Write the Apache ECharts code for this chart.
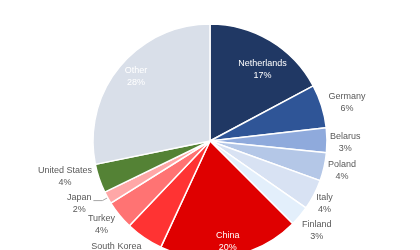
<!DOCTYPE html>
<html><head><meta charset="utf-8">
<script src="https://cdn.jsdelivr.net/npm/echarts@6/dist/echarts.min.js"></script>
<style>html,body{margin:0;padding:0;background:#fff}#c{width:420px;height:250px}</style>
</head><body><div id="c"></div>
<script>
const categories = ['Netherlands','Germany','Belarus','Poland','Italy','Finland','China','South Korea','Turkey','Japan','United States','Other'];
const values = [17.2, 6.0, 3.4, 3.9, 4.2, 2.8, 19.4, 5.2, 4.0, 1.7, 4.0, 28.2];
const pctLabels = ['17%','6%','3%','4%','4%','3%','20%','5%','4%','2%','4%','28%'];
const colors = ['#203864','#2F5597','#8FAADC','#B4C7E7','#D8E2F3','#E3EFFB','#DF0000','#FF3333','#FF7373','#FFA7A7','#548235','#D9DFE9'];
const insideNames = ['Netherlands','China','Other'];

// label placement tweaks (style only): radial line length and vertical shift
const labelTweak = {
  'Germany':{len:5, dy:-2}, 'Belarus':{len:1, dy:2}, 'Poland':{len:2, dy:3},
  'Italy':{len:0.5, dy:9}, 'Finland':{len:0.5, dy:14},
  'South Korea':{len:1.5, dy:14}, 'Turkey':{len:3, dy:8},
  'Japan':{len:6, len2:9, dy:3, line:true}, 'United States':{len:5.5, dy:-4}
};
const pad = dy => dy>=0 ? [2*dy,0,0,0] : [0,0,-2*dy,0];

const chart = echarts.init(document.getElementById('c'), null, {renderer:'canvas'});
const font = 'Liberation Sans';
const outerData = categories.map((n,i)=>{
  const t = labelTweak[n] || {len:5, dy:0};
  return {
    name:n, value:values[i],
    itemStyle:{color:colors[i]},
    label:{show: !insideNames.includes(n), padding: pad(t.dy)},
    labelLine:{show: !!t.line, length:t.len, length2:t.len2||0}
  };
});
const innerData = categories.map((n,i)=>({
  name:n, value:values[i],
  label: n==='Netherlands' ? {show:true, padding:[32,0,0,0]} :
         n==='Other' ? {show:true, padding:[0,0,0,10]} : {show: insideNames.includes(n)}
}));
chart.setOption({
  animation:false,
  series:[{
    type:'pie', center:[210,141], radius:[0,117], startAngle:90, clockwise:true,
    avoidLabelOverlap:false,
    labelLayout:{hideOverlap:false},
    itemStyle:{borderColor:'#fff', borderWidth:1.5},
    label:{position:'outside', distanceToLabelLine:2, fontFamily:font, fontSize:9, color:'#595959', lineHeight:12,
      formatter:p=>'{a|'+p.name+'}\n{a|'+pctLabels[p.dataIndex]+'}',
      rich:{a:{align:'center', fontFamily:font, fontSize:9, color:'#595959', lineHeight:12}}},
    labelLine:{lineStyle:{color:'#A6A6A6', width:1}},
    emphasis:{disabled:true},
    data:outerData
  },{
    type:'pie', center:[210,141], radius:[81,117], startAngle:90, clockwise:true,
    silent:true,
    labelLayout:{hideOverlap:false},
    itemStyle:{color:'rgba(0,0,0,0)', borderWidth:0},
    label:{position:'inside', fontFamily:font, fontSize:9, color:'#fff', lineHeight:12,
      formatter:p=>'{a|'+p.name+'}\n{a|'+pctLabels[p.dataIndex]+'}',
      rich:{a:{align:'center', fontFamily:font, fontSize:9, color:'#fff', lineHeight:12}}},
    labelLine:{show:false},
    emphasis:{disabled:true},
    data:innerData
  }]
});
</script></body></html>
